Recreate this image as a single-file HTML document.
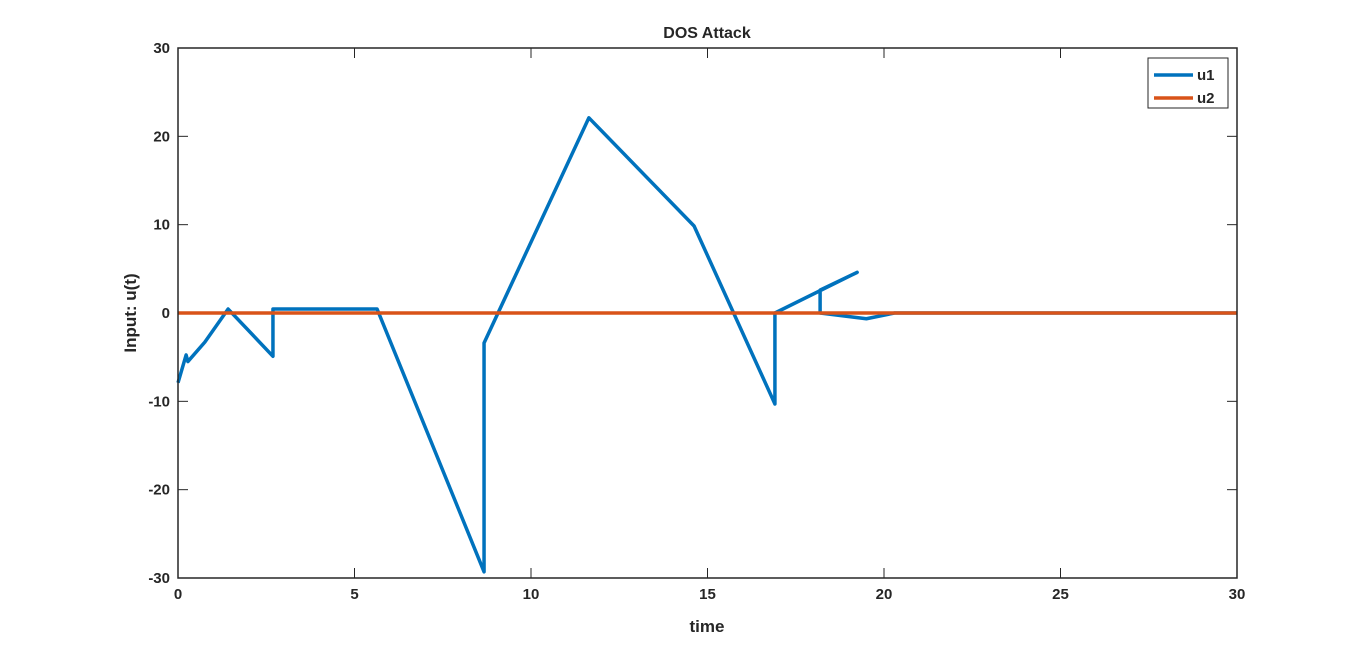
<!DOCTYPE html>
<html><head><meta charset="utf-8"><style>
body{margin:0;background:#fff;}
svg text{font-family:"Liberation Sans",Arial,sans-serif;font-weight:bold;fill:#262626;}
</style></head><body>
<svg width="1366" height="651">
<g id="g"></g>
</svg>
<script>
const tVals=[0,0.23,0.28,0.76,1.42,2.69,2.69,5.64,8.67,8.67,11.64,14.62,16.91,16.91,19.24,18.19,18.19,19.5,20.3,30];
const u1Vals=[-7.9,-4.75,-5.5,-3.3,0.45,-4.9,0.45,0.45,-29.3,-3.4,22.1,9.85,-10.3,0,4.6,2.6,0,-0.65,0,0];
const u2T=[0,30];
const u2Vals=[0,0];
const xTicks=[0,5,10,15,20,25,30];
const yTicks=[-30,-20,-10,0,10,20,30];
const L=178,R=1237,T=48,B=578;
const xs=v=>L+(v-0)/30*(R-L);
const ys=v=>B-(v+30)/60*(B-T);
const ns="http://www.w3.org/2000/svg";
const g=document.getElementById('g');
function mk(tag,a,txt){const e=document.createElementNS(ns,tag);for(const k in a)e.setAttribute(k,a[k]);if(txt!=null)e.textContent=txt;g.appendChild(e);return e;}
let e=mk('rect',{x:L,y:T,width:R-L,height:B-T,fill:'#fff',stroke:'none'});


xTicks.forEach(v=>{
 let t=mk('line',{x1:xs(v),x2:xs(v),y1:B,y2:B-10,stroke:'#262626','stroke-width':1});
 
 
 t=mk('line',{x1:xs(v),x2:xs(v),y1:T,y2:T+10,stroke:'#262626','stroke-width':1});
 
 
 t=mk('text',{x:xs(v),y:B+21,'text-anchor':'middle','font-size':15},String(v));
 
 
});
yTicks.forEach(v=>{
 let t=mk('line',{x1:L,x2:L+10,y1:ys(v),y2:ys(v),stroke:'#262626','stroke-width':1});
 
 
 t=mk('line',{x1:R,x2:R-10,y1:ys(v),y2:ys(v),stroke:'#262626','stroke-width':1});
 
 
 t=mk('text',{x:L-8,y:ys(v)+5,'text-anchor':'end','font-size':15},String(v));
 
 
});
e=mk('polyline',{points:tVals.map((t,i)=>xs(t)+','+ys(u1Vals[i])).join(' '),fill:'none',stroke:'#0072BD','stroke-width':3.5,'stroke-linejoin':'round'});


e=mk('polyline',{points:u2T.map((t,i)=>xs(t)+','+ys(u2Vals[i])).join(' '),fill:'none',stroke:'#D95319','stroke-width':3.5});


e=mk('rect',{x:L,y:T,width:R-L,height:B-T,fill:'none',stroke:'#262626','stroke-width':1.5});


e=mk('text',{x:707,y:38,'text-anchor':'middle','font-size':16},'DOS Attack');


e=mk('text',{x:707,y:632,'text-anchor':'middle','font-size':17},'time');


e=mk('text',{x:136,y:313,'text-anchor':'middle','font-size':17,transform:'rotate(-90 136 313)'},'Input: u(t)');


e=mk('rect',{x:1148,y:58,width:80,height:50,fill:'#fff',stroke:'#262626','stroke-width':1});


[['u1','#0072BD',75],['u2','#D95319',98]].forEach(([n,c,y])=>{
 let t=mk('line',{x1:1154,x2:1193,y1:y,y2:y,stroke:c,'stroke-width':3.5});
 
 
 t=mk('text',{x:1197,y:y+5,'font-size':15},n);
 
 
});
</script>
</body></html>
